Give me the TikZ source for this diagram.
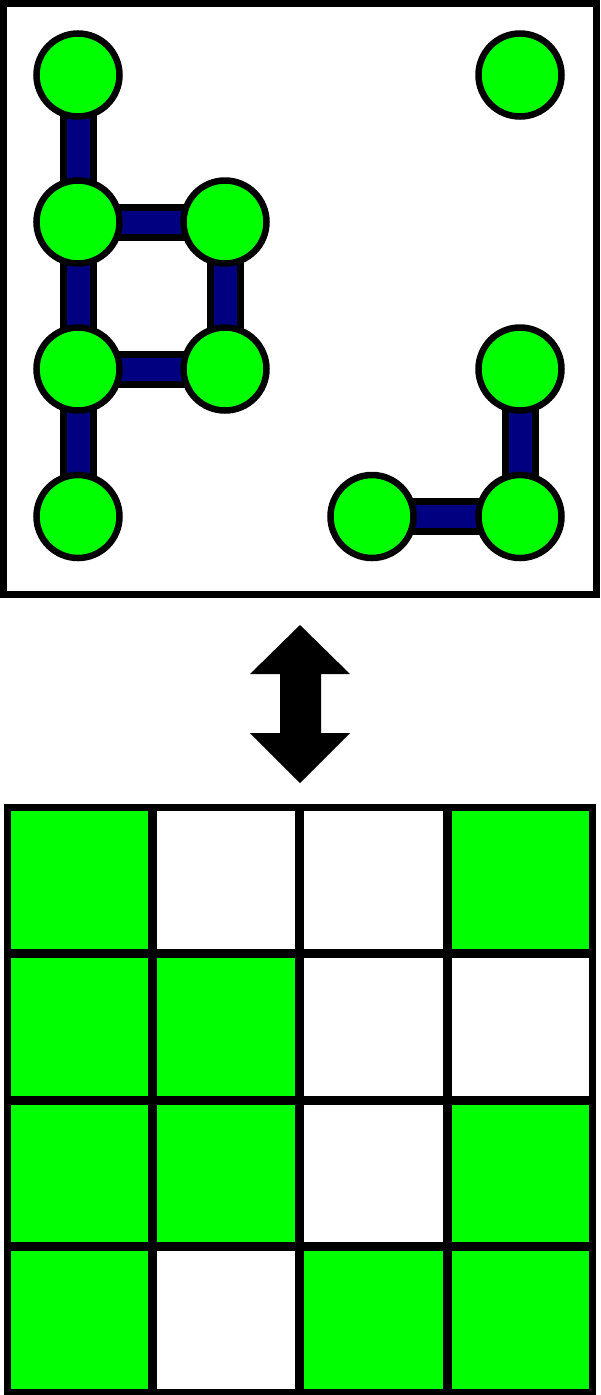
\documentclass[tikz,border=0pt]{standalone}
\definecolor{vgreen}{HTML}{00FF00}
\definecolor{vnavy}{HTML}{000080}
\begin{document}
\begin{tikzpicture}[x=1pt,y=-1pt,
  vert/.style={circle,draw=black,fill=vgreen,line width=6.5pt,minimum size=83pt,inner sep=0pt},
  edgeout/.style={line width=37pt,draw=black},
  edgein/.style={line width=23pt,draw=vnavy},
  frame/.style={draw=black,line width=7pt},
  gcell/.style={fill=vgreen},
  gline/.style={draw=black,line width=9pt},
  bigarrow/.style={fill=black}]
\useasboundingbox (0,0) rectangle (600,1395);
% top frame
\draw[frame] (3.5,3.5) rectangle (596.5,594.5);
% vertices (named)
\path
  (78,75)   coordinate (c00)
  (520,75)  coordinate (c30)
  (78,222)  coordinate (c01)
  (225,222) coordinate (c11)
  (78,369)  coordinate (c02)
  (225,369) coordinate (c12)
  (520,369) coordinate (c32)
  (78,516.5)  coordinate (c03)
  (372,516.5) coordinate (c23)
  (520,516.5) coordinate (c33);
% edges: outlines then fills
\foreach \a/\b in {c00/c01,c01/c11,c01/c02,c11/c12,c02/c12,c02/c03,c32/c33,c23/c33}
  \draw[edgeout] (\a) -- (\b);
\foreach \a/\b in {c00/c01,c01/c11,c01/c02,c11/c12,c02/c12,c02/c03,c32/c33,c23/c33}
  \draw[edgein] (\a) -- (\b);
\foreach \n in {c00,c30,c01,c11,c02,c12,c32,c03,c23,c33}
  \node[vert] (v\n) at (\n) {};
% double arrow
\fill[bigarrow] (300,625) -- (350,674) -- (321,674) -- (321,733) -- (350,733)
  -- (300,783) -- (250,733) -- (280,733) -- (280,674) -- (250,674) -- cycle;
% bottom grid cells
\def\xa{7}\def\xb{152.5}\def\xc{299.5}\def\xd{447}\def\xe{592.5}
\def\ya{807}\def\yb{953.5}\def\yc{1100}\def\yd{1246.5}\def\ye{1392.5}
\fill[gcell] (\xa,\ya) rectangle (\xb,\yb);
\fill[gcell] (\xd,\ya) rectangle (\xe,\yb);
\fill[gcell] (\xa,\yb) rectangle (\xc,\yc);
\fill[gcell] (\xa,\yc) rectangle (\xc,\yd);
\fill[gcell] (\xd,\yc) rectangle (\xe,\yd);
\fill[gcell] (\xa,\yd) rectangle (\xb,\ye);
\fill[gcell] (\xc,\yd) rectangle (\xe,\ye);
% grid lines
\foreach \x in {\xb,\xc,\xd}
  \draw[gline] (\x,\ya) -- (\x,\ye);
\foreach \y in {\yb,\yc,\yd}
  \draw[gline] (\xa,\y) -- (\xe,\y);
\draw[frame] (\xa,\ya) rectangle (\xe,\ye);
\end{tikzpicture}
\end{document}
